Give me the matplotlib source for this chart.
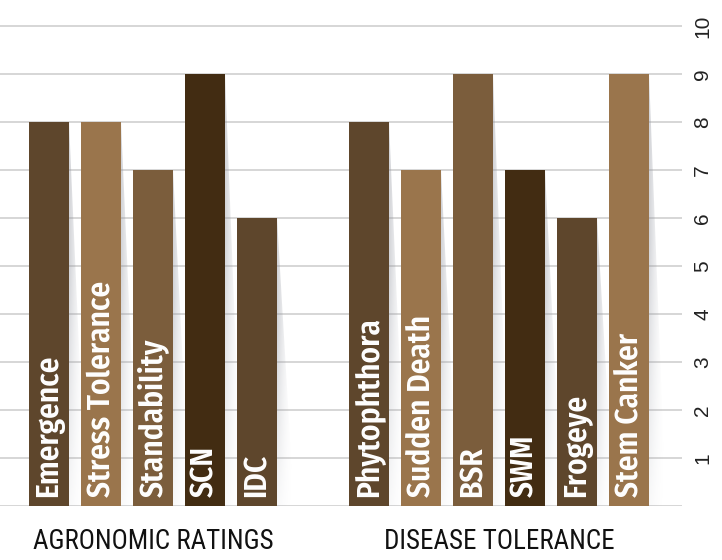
import numpy as np
import matplotlib
matplotlib.use('Agg')
import matplotlib.pyplot as plt
from matplotlib import font_manager
from matplotlib.patches import Polygon

# data
agro_labels = ['Emergence', 'Stress Tolerance', 'Standability', 'SCN', 'IDC']
agro_values = [8, 8, 7, 9, 6]
disease_labels = ['Phytophthora', 'Sudden Death', 'BSR', 'SWM', 'Frogeye', 'Stem Canker']
disease_values = [8, 7, 9, 7, 6, 9]
group_titles = ['AGRONOMIC RATINGS', 'DISEASE TOLERANCE']
y_ticks = [0, 1, 2, 3, 4, 5, 6, 7, 8, 9, 10]

DARK = '#5e462c'
LIGHT = '#9a754c'
MID = '#7b5d3c'
DARKEST = '#422c12'
agro_colors = [DARK, LIGHT, MID, DARKEST, DARK]
disease_colors = [DARK, LIGHT, MID, DARKEST, DARK, LIGHT]

# pick condensed fonts if they are around
names = set(f.name for f in font_manager.fontManager.ttflist)
def pick(cands):
    for c in cands:
        if c in names:
            return c
    return 'DejaVu Sans'

bar_font = pick(['Fira Sans Condensed', 'Encode Sans Condensed', 'Asap Condensed',
                 'Barlow Condensed', 'Liberation Sans Narrow'])
title_font = pick(['Roboto Condensed', 'Barlow Condensed', 'Archivo Narrow',
                   'Fira Sans Condensed', 'Liberation Sans Narrow'])
plain = pick(['Liberation Sans', 'Arimo'])

fig = plt.figure(figsize=(7.22, 5.6), dpi=100)
ymax = 10.4
ax = fig.add_axes([0, 54 / 560, 682 / 722, (48 * ymax) / 560])

gap = 112 / 52 - 1
agro_x = np.arange(len(agro_labels))
disease_x = np.arange(len(disease_labels)) + len(agro_labels) + gap
xs = list(agro_x) + list(disease_x)
vals = agro_values + disease_values
labels = agro_labels + disease_labels
colors = agro_colors + disease_colors
width = 40 / 52

bars = ax.bar(xs, vals, width=width, color=colors, zorder=3)

# soft wedge shadows on the right side of each bar
sw = 17 / 52
nu, nv = 40, 120
u = np.linspace(0, 1, nu)[None, :]
v = np.linspace(0, 1, nv)[:, None]  # 0 bottom -> 1 top
for b in bars:
    xr = b.get_x() + b.get_width()
    h = b.get_height()
    alpha = 0.42 * (1 - u) ** 1.8 * (0.15 + 0.85 * np.clip(v * 1.6, 0, 1))
    img = np.zeros((nv, nu, 4))
    img[..., 0] = 0.58
    img[..., 1] = 0.59
    img[..., 2] = 0.63
    img[..., 3] = alpha
    im = ax.imshow(img, extent=[xr, xr + sw, 0, h], origin='lower',
                   aspect='auto', zorder=2, interpolation='bilinear')
    tri = Polygon([[xr, h], [xr + sw, 0], [xr, 0]], closed=True,
                  transform=ax.transData, facecolor='none', edgecolor='none')
    ax.add_patch(tri)
    im.set_clip_path(tri)

for x, lab in zip(xs, labels):
    ax.text(x, 0.19, lab, rotation=90, ha='center', va='bottom',
            color='white', fontsize=22.5, fontweight='semibold',
            family=[bar_font, 'DejaVu Sans'], zorder=4)

# group titles, sized so the first one is about 241 px wide
renderer = fig.canvas.get_renderer()
title_texts = []
for gx, title in zip([np.mean(agro_x), np.mean(disease_x)], group_titles):
    t = ax.text(gx, -0.896, title, ha='center', va='baseline', fontsize=25,
                fontweight='normal', family=[title_font, 'DejaVu Sans'],
                color='#111111', clip_on=False)
    title_texts.append(t)
w0 = title_texts[0].get_window_extent(renderer).width
size = 25 * 241 / w0
for t in title_texts:
    t.set_fontsize(size)

ax.set_xlim(-49 / 52, (682 - 49) / 52)
ax.set_ylim(0, ymax)
ax.set_yticks(y_ticks)
ax.set_yticklabels([''] + [str(t) for t in y_ticks[1:]], rotation=90,
                   va='center', family=plain, fontsize=15, color='#222222')
ax.yaxis.tick_right()
ax.tick_params(axis='y', length=0, pad=8)
ax.set_xticks([])
ax.yaxis.grid(True, color='#d0d0d0', linewidth=1.2, zorder=1)
ax.set_axisbelow(True)
for s in ax.spines.values():
    s.set_visible(False)

fig.savefig('out.png', dpi=100)
